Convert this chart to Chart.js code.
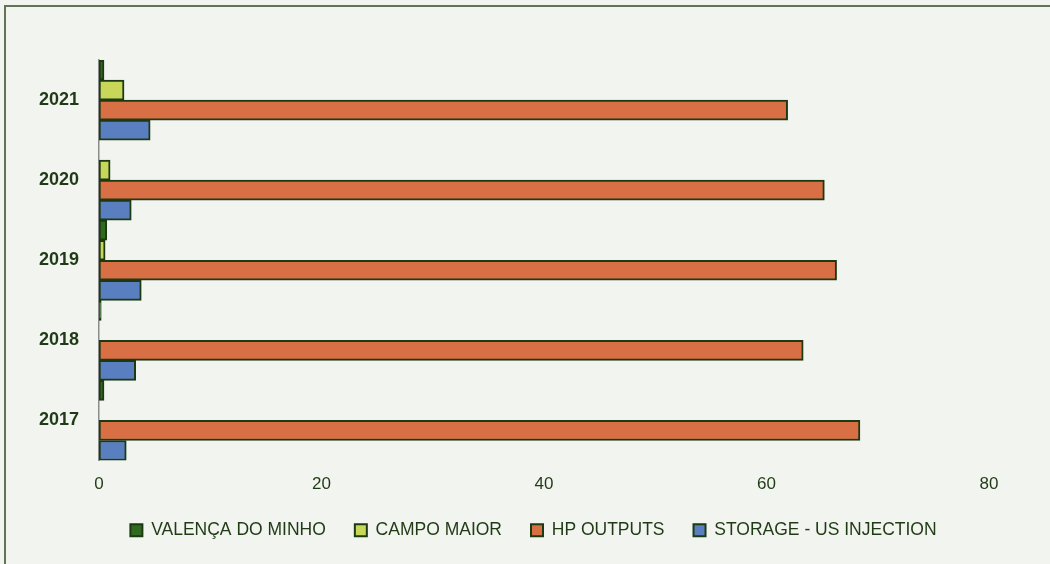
<!DOCTYPE html>
<html>
<head>
<meta charset="utf-8">
<script src="https://cdn.jsdelivr.net/npm/chart.js@4/dist/chart.umd.min.js"></script>
<style>
  html,body{margin:0;padding:0;background:#f2f4f0;overflow:hidden;}
  .frame{position:absolute;left:4px;top:5px;width:1100px;height:700px;border:2px solid #637356;box-sizing:border-box;}
  #chart{position:absolute;left:0;top:0;}
</style>
</head>
<body>
<div class="frame"></div>
<canvas id="chart" width="1050" height="564"></canvas>
<script>
// Anos (de cima para baixo) e séries por origem
const anos=['2021','2020','2019','2018','2017'];
const valencaMinho=[0.45,null,0.7,0.2,0.45];
const campoMaior=[2.25,1.0,0.55,null,null];
const hpOutputs=[61.9,65.2,66.3,63.3,68.4];
const storageUS=[4.6,2.9,3.8,3.3,2.45];
const xTicks=[0,20,40,60,80];

const BORDA='#1c3a12';
const TEXTO='#1f3a14';

function serie(label,data,cor){
  return {label,data,backgroundColor:cor,borderColor:BORDA,borderWidth:2,borderSkipped:false,
    categoryPercentage:1,barPercentage:1};
}

// empurra a legenda para a direita (centrada sob a área das barras)
const legendShift={
  id:'legendShift',
  afterLayout(chart){
    const lg=chart.legend;
    if(!lg) return;
    lg.left+=39;lg.right+=39;
  }
};

new Chart(document.getElementById('chart'),{
  type:'bar',
  data:{
    labels:anos,
    datasets:[
      serie('VALENÇA DO MINHO',valencaMinho,'#2f6a20'),
      serie('CAMPO MAIOR',campoMaior,'#c8d65a'),
      serie('HP OUTPUTS',hpOutputs,'#d96f45'),
      serie('STORAGE - US INJECTION',storageUS,'#5a7fc0')
    ]
  },
  plugins:[legendShift],
  options:{
    indexAxis:'y',responsive:false,animation:false,devicePixelRatio:1,
    layout:{padding:{top:60,right:61,bottom:15,left:0}},
    plugins:{
      tooltip:{enabled:false},
      legend:{
        position:'bottom',
        labels:{font:{family:'Liberation Sans',size:17.5},color:TEXTO,boxWidth:12,boxHeight:12,padding:29}
      }
    },
    scales:{
      x:{
        min:0,max:80,
        afterBuildTicks:s=>{s.ticks=xTicks.map(v=>({value:v}));},
        afterFit:s=>{s.height=32;},
        grid:{display:false,drawTicks:false},
        border:{display:false},
        ticks:{color:TEXTO,font:{family:'Liberation Sans',size:17},padding:14}
      },
      y:{
        afterFit:s=>{s.width=99;},
        grid:{display:false,drawTicks:false},
        border:{display:true,color:'#8c8c8c',width:1.5},
        ticks:{color:TEXTO,font:{family:'Liberation Sans',size:18,weight:'bold'},padding:20}
      }
    }
  }
});
</script>
</body>
</html>
